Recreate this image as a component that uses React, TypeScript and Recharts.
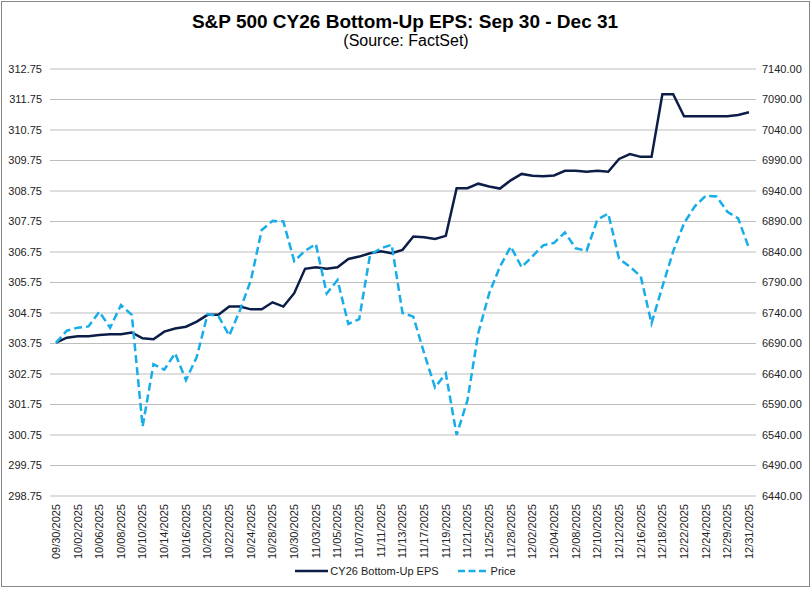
import React from "react";
import {
  LineChart,
  Line,
  XAxis,
  YAxis,
  CartesianGrid,
  Legend,
} from "recharts";

// trading days, Sep 30 - Dec 31 2025
const dates = [
  "09/30/2025", "10/01/2025", "10/02/2025", "10/03/2025", "10/06/2025",
  "10/07/2025", "10/08/2025", "10/09/2025", "10/10/2025", "10/13/2025",
  "10/14/2025", "10/15/2025", "10/16/2025", "10/17/2025", "10/20/2025",
  "10/21/2025", "10/22/2025", "10/23/2025", "10/24/2025", "10/27/2025",
  "10/28/2025", "10/29/2025", "10/30/2025", "10/31/2025", "11/03/2025",
  "11/04/2025", "11/05/2025", "11/06/2025", "11/07/2025", "11/10/2025",
  "11/11/2025", "11/12/2025", "11/13/2025", "11/14/2025", "11/17/2025",
  "11/18/2025", "11/19/2025", "11/20/2025", "11/21/2025", "11/24/2025",
  "11/25/2025", "11/26/2025", "11/28/2025", "12/01/2025", "12/02/2025",
  "12/03/2025", "12/04/2025", "12/05/2025", "12/08/2025", "12/09/2025",
  "12/10/2025", "12/11/2025", "12/12/2025", "12/15/2025", "12/16/2025",
  "12/17/2025", "12/18/2025", "12/19/2025", "12/22/2025", "12/23/2025",
  "12/24/2025", "12/26/2025", "12/29/2025", "12/30/2025", "12/31/2025",
];

const eps = [
  303.78, 303.94, 303.99, 303.99, 304.03, 304.05, 304.05, 304.11, 303.92, 303.89,
  304.14, 304.24, 304.3, 304.47, 304.69, 304.69, 304.96, 304.96, 304.87, 304.87,
  305.1, 304.96, 305.4, 306.2, 306.25, 306.2, 306.25, 306.52, 306.6, 306.71,
  306.77, 306.71, 306.82, 307.26, 307.23, 307.18, 307.28, 308.84, 308.84, 308.99,
  308.9, 308.83, 309.1, 309.31, 309.25, 309.23, 309.26, 309.41, 309.41, 309.38,
  309.41, 309.38, 309.8, 309.96, 309.87, 309.87, 311.92, 311.92, 311.2, 311.2,
  311.2, 311.2, 311.2, 311.24, 311.33,
];

const price = [
  6691, 6711, 6716, 6718, 6742, 6716, 6753, 6737, 6554, 6656,
  6647, 6674, 6630, 6668, 6738, 6735, 6703, 6745, 6794, 6876,
  6891, 6890, 6825, 6842, 6853, 6772, 6794, 6722, 6730, 6835,
  6846, 6852, 6740, 6734, 6674, 6618, 6641, 6540, 6597, 6707,
  6772, 6816, 6849, 6815, 6833, 6851, 6855, 6872, 6846, 6842,
  6893, 6903, 6829, 6816, 6800, 6723, 6783, 6841, 6887, 6915,
  6932, 6931, 6906, 6895, 6846,
];

const epsTicks = [
  298.75, 299.75, 300.75, 301.75, 302.75, 303.75, 304.75, 305.75,
  306.75, 307.75, 308.75, 309.75, 310.75, 311.75, 312.75,
];
const priceTicks = [
  6440, 6490, 6540, 6590, 6640, 6690, 6740, 6790,
  6840, 6890, 6940, 6990, 7040, 7090, 7140,
];

const data = dates.map((d, i) => ({ date: d, eps: eps[i], price: price[i] }));

const FONT = '"Liberation Sans", Arial, sans-serif';
const NAVY = "#0c1d47";
const BLUE = "#16ade8";

function DateTick({ x, y, payload }: any) {
  return (
    <g transform={`translate(${x},${y})`}>
      <text
        transform="rotate(-90)"
        textAnchor="end"
        dy="0.35em"
        fontSize={11}
        fill="#222"
        fontFamily={FONT}
      >
        {payload.value}
      </text>
    </g>
  );
}

function LegendBox() {
  return (
    <div
      style={{
        display: "flex",
        justifyContent: "center",
        alignItems: "center",
        fontFamily: FONT,
        fontSize: 11,
        color: "#222",
      }}
    >
      <svg width={33} height={10} style={{ marginRight: 2 }}>
        <line x1={0} y1={5} x2={33} y2={5} stroke={NAVY} strokeWidth={2.5} />
      </svg>
      <span style={{ marginRight: 19 }}>CY26 Bottom-Up EPS</span>
      <svg width={28} height={10} style={{ marginRight: 5 }}>
        <line
          x1={0}
          y1={5}
          x2={28}
          y2={5}
          stroke={BLUE}
          strokeWidth={2.5}
          strokeDasharray="7 3.5"
        />
      </svg>
      <span>Price</span>
    </div>
  );
}

export default function App() {
  return (
    <div
      style={{
        position: "absolute",
        left: 0,
        top: 0,
        width: 811,
        height: 590,
        background: "#fff",
      }}
    >
      <div
        style={{
          position: "absolute",
          left: 1,
          top: 1,
          width: 809,
          height: 586,
          boxSizing: "border-box",
          border: "1px solid #888",
        }}
      />
      <svg
        width={811}
        height={60}
        style={{ position: "absolute", left: 0, top: 0 }}
      >
        <text
          x={405}
          y={28}
          textAnchor="middle"
          fontFamily={FONT}
          fontWeight="bold"
          fontSize={19}
          fill="#000"
        >
          S&amp;P 500 CY26 Bottom-Up EPS: Sep 30 - Dec 31
        </text>
        <text
          x={406}
          y={46}
          textAnchor="middle"
          fontFamily={FONT}
          fontSize={16}
          fill="#000"
        >
          (Source: FactSet)
        </text>
      </svg>
      <div style={{ position: "absolute", left: 0, top: 0 }}>
        <LineChart
          width={811}
          height={590}
          data={data}
          margin={{ top: 69, right: 0, bottom: 34, left: 0 }}
        >
          <CartesianGrid
            vertical={false}
            stroke="#bdbdbd"
            yAxisId="left"
          />
          <XAxis
            dataKey="date"
            interval={1}
            tick={<DateTick />}
            tickLine={false}
            axisLine={false}
            height={60}
            padding={{ left: 6, right: 7 }}
          />
          <YAxis
            yAxisId="left"
            orientation="left"
            width={50}
            domain={[298.75, 312.75]}
            ticks={epsTicks}
            tickFormatter={(v: number) => v.toFixed(2)}
            tickLine={false}
            axisLine={false}
            tick={{ fontSize: 11, fill: "#222", fontFamily: FONT }}
          />
          <YAxis
            yAxisId="right"
            orientation="right"
            width={55}
            domain={[6440, 7140]}
            ticks={priceTicks}
            tickFormatter={(v: number) => v.toFixed(2)}
            tickLine={false}
            axisLine={false}
            tickMargin={0}
            tick={{ fontSize: 11, fill: "#222", fontFamily: FONT }}
          />
          <Legend
            layout="horizontal"
            verticalAlign="middle"
            content={() => <LegendBox />}
            wrapperStyle={{ top: 565, left: 0, width: 811 }}
          />
          <Line
            yAxisId="left"
            type="linear"
            dataKey="eps"
            name="CY26 Bottom-Up EPS"
            stroke={NAVY}
            strokeWidth={2.5}
            dot={false}
            isAnimationActive={false}
          />
          <Line
            yAxisId="right"
            type="linear"
            dataKey="price"
            name="Price"
            stroke={BLUE}
            strokeWidth={2.5}
            strokeDasharray="8 4"
            dot={false}
            isAnimationActive={false}
          />
        </LineChart>
      </div>
    </div>
  );
}
